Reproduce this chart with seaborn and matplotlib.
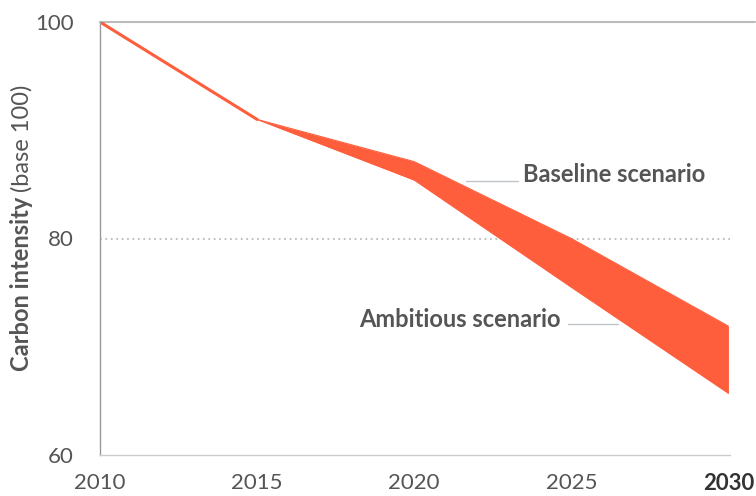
import matplotlib
matplotlib.use("Agg")
import matplotlib.pyplot as plt
import seaborn as sns
import pandas as pd

years_hist = [2010, 2015]
hist_values = [100, 91]
years_proj = [2015, 2020, 2025, 2030]
baseline = [91, 87.1, 80.0, 71.9]
ambitious = [91, 85.4, 75.5, 65.7]
x_ticks = [2010, 2015, 2020, 2025, 2030]
y_ticks = [60, 80, 100]

sns.set_theme(style="white")
plt.rcParams['font.family'] = ['Lato', 'DejaVu Sans']

ORANGE = "#FF5E3C"
TEXT = "#555555"

fig = plt.figure(figsize=(7.56, 4.96), dpi=100)
W, H = 756, 496
ax = fig.add_axes([100 / W, 1 - 455 / H, (730 - 100) / W, (455 - 22) / H])

df_hist = pd.DataFrame({"year": years_hist, "value": hist_values})
sns.lineplot(data=df_hist, x="year", y="value", ax=ax, color=ORANGE, lw=2.2)
df_proj = pd.DataFrame({"year": years_proj, "baseline": baseline, "ambitious": ambitious})
sns.lineplot(data=df_proj, x="year", y="baseline", ax=ax, color=ORANGE, lw=0.8)
sns.lineplot(data=df_proj, x="year", y="ambitious", ax=ax, color=ORANGE, lw=0.8)
ax.fill_between(df_proj["year"], df_proj["ambitious"], df_proj["baseline"], color=ORANGE, lw=0)

ax.set_xlim(2010, 2030.05)
ax.set_ylim(60, 100)
ax.set_xticks(x_ticks)
ax.set_yticks(y_ticks)
ax.set_xticklabels([str(v) for v in x_ticks])
ax.set_yticklabels([str(v) for v in y_ticks])
ax.tick_params(axis="both", length=0, labelsize=16, labelcolor=TEXT)
ax.tick_params(axis="y", pad=19)
ax.tick_params(axis="x", pad=13)
ax.get_xticklabels()[-1].set_fontweight("bold")
ax.get_xticklabels()[-1].set_color("#333333")
ax.set_xlabel("")
ax.set_ylabel("")

for s in ["top", "right"]:
    ax.spines[s].set_visible(False)
ax.spines["left"].set_color("#999999")
ax.spines["left"].set_linewidth(1)
ax.spines["bottom"].set_color("#cccccc")
ax.spines["bottom"].set_linewidth(1)

ax.plot([2010, 2030.85], [100, 100], color="#bbbbbb", lw=1.5, clip_on=False, zorder=1)
ax.axhline(80, color="#bbbbbb", lw=1.3, ls=(0, (1, 2)), zorder=0)

# annotations
ax.plot([2021.65, 2023.3], [85.3, 85.3], color="#c0c4c8", lw=1)
ax.text(2023.45, 85.9, "Baseline scenario", fontsize=17, fontweight="bold", color=TEXT,
        ha="left", va="center")
ax.plot([2024.9, 2026.5], [72.1, 72.1], color="#c0c4c8", lw=1)
ax.text(2024.65, 72.5, "Ambitious scenario", fontsize=17, fontweight="bold", color=TEXT,
        ha="right", va="center")

fig.text(22 / W, 1 - 197 / H, "Carbon intensity", rotation=90, rotation_mode="anchor",
         ha="right", va="center", fontsize=17, fontweight="bold", color=TEXT)
fig.text(22 / W, 1 - 192 / H, "(base 100)", rotation=90, rotation_mode="anchor",
         ha="left", va="center", fontsize=17, color=TEXT)

fig.savefig("out.png", dpi=100)
